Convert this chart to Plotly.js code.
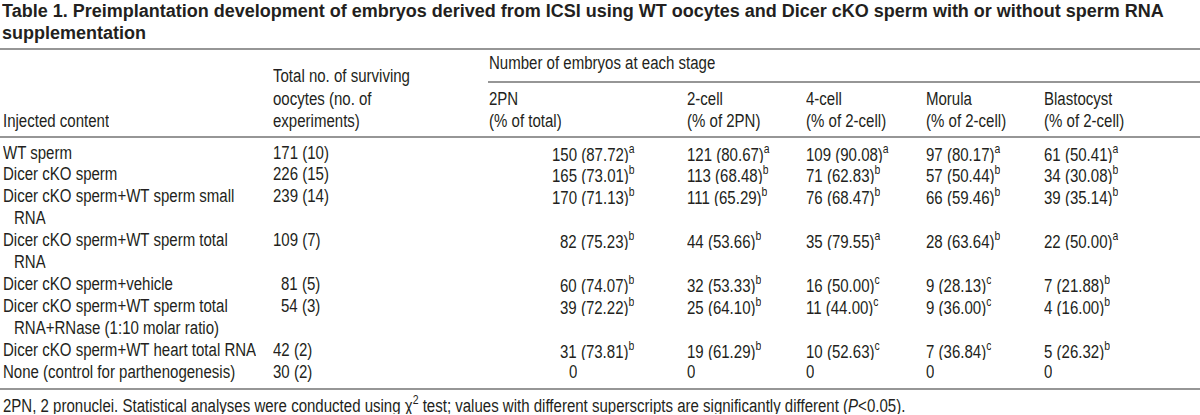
<!DOCTYPE html>
<html>
<head>
<meta charset="utf-8">
<script src="https://cdn.plot.ly/plotly-3.0.1.min.js"></script>
<style>
html,body{margin:0;padding:0;background:#fff;}
#chart{width:1200px;height:415px;}
/* condensed body face (the reference uses a narrow Helvetica) */
#chart g.annotation:not([data-index="0"]):not([data-index="1"]) text.annotation-text{
  transform: scaleX(0.835); transform-box: fill-box; transform-origin: 0 50%;
}
</style>
</head>
<body>
<div id="chart"></div>
<script>
// ---------------- DATA ----------------
const titleText = "Table 1. Preimplantation development of embryos derived from ICSI using WT oocytes and Dicer cKO sperm with or without sperm RNA";
const titleText2 = "supplementation";

const injectedContent = [
  ["WT sperm"],
  ["Dicer cKO sperm"],
  ["Dicer cKO sperm+WT sperm small", "RNA"],
  ["Dicer cKO sperm+WT sperm total", "RNA"],
  ["Dicer cKO sperm+vehicle"],
  ["Dicer cKO sperm+WT sperm total", "RNA+RNase (1:10 molar ratio)"],
  ["Dicer cKO sperm+WT heart total RNA"],
  ["None (control for parthenogenesis)"]
];
const totalOocytes = [171, 226, 239, 109, 81, 54, 42, 30];
const experiments  = [10, 15, 14, 7, 5, 3, 2, 2];

const stageNames = ["2PN", "2-cell", "4-cell", "Morula", "Blastocyst"];
const stageBasis = ["(% of total)", "(% of 2PN)", "(% of 2-cell)", "(% of 2-cell)", "(% of 2-cell)"];

const count2PN   = [150, 165, 170, 82, 60, 39, 31, 0];
const pct2PN     = [87.72, 73.01, 71.13, 75.23, 74.07, 72.22, 73.81, null];
const sup2PN     = ["a", "b", "b", "b", "b", "b", "b", ""];

const count2cell = [121, 113, 111, 44, 32, 25, 19, 0];
const pct2cell   = [80.67, 68.48, 65.29, 53.66, 53.33, 64.10, 61.29, null];
const sup2cell   = ["a", "b", "b", "b", "b", "b", "b", ""];

const count4cell = [109, 71, 76, 35, 16, 11, 10, 0];
const pct4cell   = [90.08, 62.83, 68.47, 79.55, 50.00, 44.00, 52.63, null];
const sup4cell   = ["a", "b", "b", "a", "c", "c", "c", ""];

const countMorula = [97, 57, 66, 28, 9, 9, 7, 0];
const pctMorula   = [80.17, 50.44, 59.46, 63.64, 28.13, 36.00, 36.84, null];
const supMorula   = ["a", "b", "b", "b", "c", "c", "c", ""];

const countBlast = [61, 34, 39, 22, 7, 4, 5, 0];
const pctBlast   = [50.41, 30.08, 35.14, 50.00, 21.88, 16.00, 26.32, null];
const supBlast   = ["a", "b", "b", "a", "b", "b", "b", ""];

const footnote = "2PN, 2 pronuclei. Statistical analyses were conducted using \u03c7<sup>2</sup> test; values with different superscripts are significantly different (<i>P</i>&lt;0.05).";

// ---------------- LAYOUT ----------------
const W = 1200, H = 415;
const BODY_FONT = "Liberation Sans, Arial, Helvetica, sans-serif";
const FS = 18;            // drawn size, horizontally condensed by CSS to ~15px widths
const SQUEEZE = 0.835;
const TITLE_FONT = "Liberation Sans, Arial, Helvetica, sans-serif";
const TITLE_FS = 18;
const INK = "#231f20";
const RULE = "#737373";
const DIGIT = 0.556 * FS * SQUEEZE;
const BOX_H = 19;

const X_LABEL = 2, X_TOTAL = 272, X_STAGE_HDR = 488;
const X_2PN = 551; // left edge of the 3-digit 2PN counts
const X_STAGES = [686, 805, 925, 1043]; // 2-cell, 4-cell, Morula, Blastocyst
const totalIndent = [0, 0, 0, 0, 1, 1, 0, 0];
const ROW0 = 153, PITCH = 21.9, CONT_INDENT = 11;

const px = x => x / W;
const py = y => 1 - y / H;

const ann = [];
function T(x, y, text, o) {
  o = o || {};
  ann.push({
    xref: "paper", yref: "paper", x: px(x), y: py(y),
    xanchor: "left", yanchor: "middle", valign: "middle",
    height: o.height || BOX_H,
    text: text, showarrow: false, align: "left",
    font: {family: o.family || BODY_FONT, size: o.size || FS, color: INK},
    borderpad: 0
  });
}

// title (annotations 0 and 1 are not condensed)
T(1, 11, "<b>" + titleText + "</b>", {size: TITLE_FS, family: TITLE_FONT, height: 20});
T(1, 33, "<b>" + titleText2 + "</b>", {size: TITLE_FS, family: TITLE_FONT, height: 20});

// header
T(X_LABEL, 121, "Injected content");
T(X_TOTAL, 77, "Total no. of surviving");
T(X_TOTAL, 99, "oocytes (no. of");
T(X_TOTAL, 121, "experiments)");
T(X_STAGE_HDR, 64, "Number of embryos at each stage");
const stageHdrX = [X_STAGE_HDR].concat(X_STAGES);
stageNames.forEach((s, i) => {
  T(stageHdrX[i], 99, s);
  T(stageHdrX[i], 121, stageBasis[i]);
});

// body
function cell(c, p, s) {
  if (p === null) return String(c);
  return c + " (" + p.toFixed(2) + ")" + (s ? "<sup>" + s + "</sup>" : "");
}
const stageCols = [
  [count2cell, pct2cell, sup2cell],
  [count4cell, pct4cell, sup4cell],
  [countMorula, pctMorula, supMorula],
  [countBlast, pctBlast, supBlast]
];
let line = 0;
injectedContent.forEach((lines, r) => {
  const y = ROW0 + PITCH * line;
  lines.forEach((l, k) => T(X_LABEL + (k > 0 ? CONT_INDENT : 0), ROW0 + PITCH * (line + k), l));
  T(X_TOTAL + totalIndent[r] * DIGIT, y, totalOocytes[r] + " (" + experiments[r] + ")");
  const digits = String(count2PN[r]).length;
  T(X_2PN + (3 - digits) * DIGIT, y, cell(count2PN[r], pct2PN[r], sup2PN[r]));
  stageCols.forEach((col, j) => T(X_STAGES[j], y, cell(col[0][r], col[1][r], col[2][r])));
  line += lines.length;
});

T(2, 404.5, footnote);

const shapes = [
  {y: 49, x0: 0, x1: W},
  {y: 82, x0: X_STAGE_HDR, x1: W},
  {y: 137, x0: 0, x1: W},
  {y: 389, x0: 0, x1: W}
].map(s => ({
  type: "line", xref: "paper", yref: "paper",
  x0: px(s.x0), x1: px(s.x1), y0: py(s.y), y1: py(s.y),
  line: {color: RULE, width: 1.6}
}));

Plotly.newPlot("chart", [], {
  width: W, height: H,
  margin: {l: 0, r: 0, t: 0, b: 0},
  paper_bgcolor: "#ffffff", plot_bgcolor: "#ffffff",
  xaxis: {visible: false}, yaxis: {visible: false},
  showlegend: false,
  annotations: ann,
  shapes: shapes
}, {staticPlot: true, displayModeBar: false});
</script>
</body>
</html>
